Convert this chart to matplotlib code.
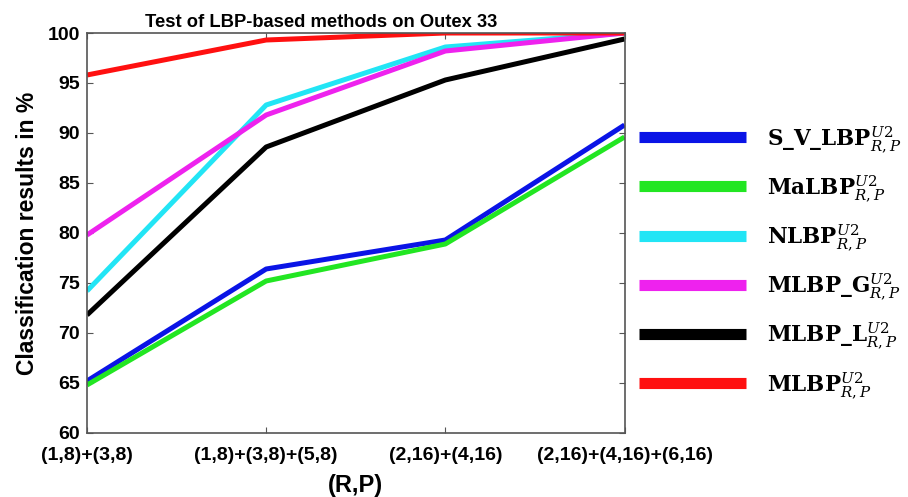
import matplotlib.pyplot as plt

# (R,P) combinations on the x axis
rp_labels = ["(1,8)+(3,8)", "(1,8)+(3,8)+(5,8)", "(2,16)+(4,16)", "(2,16)+(4,16)+(6,16)"]

s_v_lbp = [65.2, 76.4, 79.3, 90.8]
malbp = [64.8, 75.2, 78.9, 89.6]
nlbp = [74.2, 92.8, 98.6, 100.0]
mlbp_g = [79.8, 91.8, 98.2, 100.0]
mlbp_l = [71.8, 88.6, 95.3, 99.4]
mlbp = [95.8, 99.3, 100.0, 100.0]

series = [
    (s_v_lbp, r"$\mathbf{S\_V\_LBP}^{U2}_{R,P}$", "#0a14e6"),
    (malbp, r"$\mathbf{MaLBP}^{U2}_{R,P}$", "#22e622"),
    (nlbp, r"$\mathbf{NLBP}^{U2}_{R,P}$", "#22e5f5"),
    (mlbp_g, r"$\mathbf{MLBP\_G}^{U2}_{R,P}$", "#ee22ee"),
    (mlbp_l, r"$\mathbf{MLBP\_L}^{U2}_{R,P}$", "black"),
    (mlbp, r"$\mathbf{MLBP}^{U2}_{R,P}$", "#ff1010"),
]

plt.rcParams["font.family"] = ["Liberation Sans", "DejaVu Sans"]
plt.rcParams["mathtext.fontset"] = "dejavuserif"

fig = plt.figure(figsize=(9.08, 4.97), dpi=100)
ax = fig.add_axes([0.0958, 0.1288, 0.592, 0.8048])

x = list(range(len(rp_labels)))
for vals, label, color in series:
    ax.plot(x, vals, color=color, linewidth=3.6, label=label, solid_capstyle="butt")

ax.set_xlim(0, len(rp_labels) - 1)
ax.set_ylim(60, 100)
ax.set_xticks(x)
ax.set_xticklabels(rp_labels)
ax.set_yticks(range(60, 101, 5))
ax.tick_params(direction="in", top=True, right=True, length=4, color="#555555")
ax.tick_params(axis="x", labelsize=14, pad=10)
ax.tick_params(axis="y", labelsize=14, pad=5)
for lab in ax.get_xticklabels() + ax.get_yticklabels():
    lab.set_fontweight("bold")
for sp in ax.spines.values():
    sp.set_color("#555555")
    sp.set_linewidth(1.2)

ax.set_title("Test of LBP-based methods on Outex 33", fontsize=13.2, fontweight="bold",
             pad=4, x=0.435)
ax.set_xlabel("(R,P)", fontsize=17, fontweight="bold", labelpad=7)
ax.set_ylabel("Classification results in %", fontsize=16.5, fontweight="bold", labelpad=6)

leg = ax.legend(loc="upper left", bbox_to_anchor=(1.01, 0.795), frameon=False,
                fontsize=15.5, handlelength=5.0, handletextpad=0.95, labelspacing=0.85,
                borderaxespad=0)
for line in leg.get_lines():
    line.set_linewidth(8)

fig.savefig("out.png", dpi=100)
